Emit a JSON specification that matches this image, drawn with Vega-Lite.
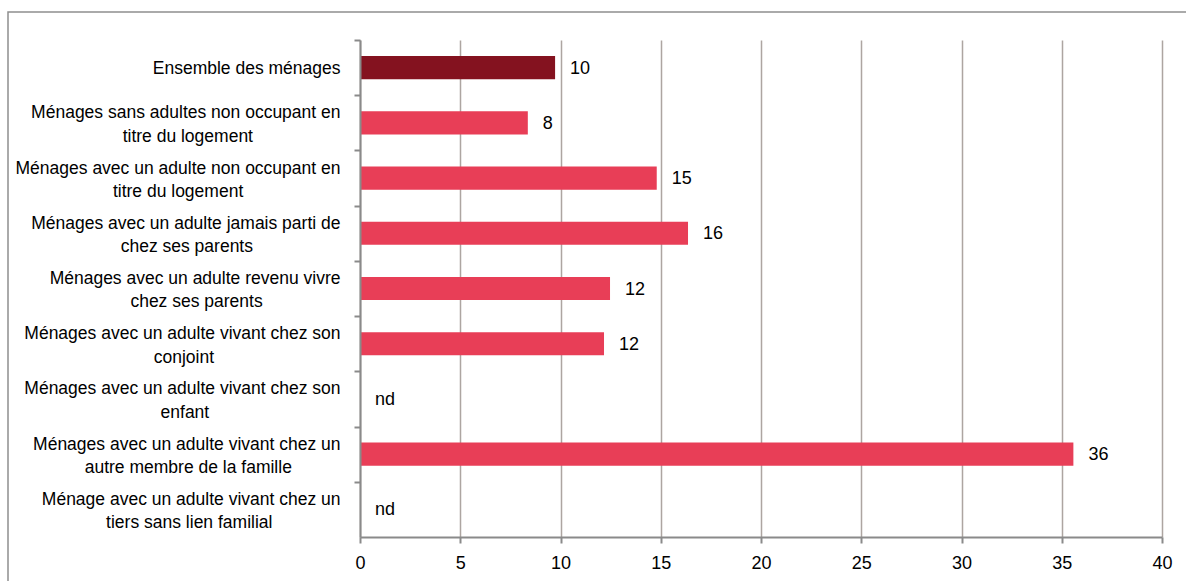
{
  "$schema": "https://vega.github.io/schema/vega-lite/v6.json",
  "width": 1200,
  "height": 600,
  "autosize": {"type": "none"},
  "padding": {"left": 8, "top": 12, "right": 0, "bottom": 0},
  "background": "white",
  "config": {"view": {"stroke": "#8f8f8f", "strokeWidth": 1.5}, "font": "Liberation Sans"},
  "data": {
    "values": [
      {"category": "Ensemble des ménages", "value": 9.73, "label": "10", "group": "total"},
      {"category": "Ménages sans adultes non occupant en\ntitre du logement\u00a0\u00a0\u00a0\u00a0\u00a0\u00a0\u00a0\u00a0\u00a0\u00a0\u00a0\u00a0\u00a0\u00a0\u00a0\u00a0\u00a0\u00a0\u200b", "value": 8.37, "label": "8", "group": "detail"},
      {"category": "Ménages avec un adulte non occupant en\ntitre du logement\u00a0\u00a0\u00a0\u00a0\u00a0\u00a0\u00a0\u00a0\u00a0\u00a0\u00a0\u00a0\u00a0\u00a0\u00a0\u00a0\u00a0\u00a0\u00a0\u00a0\u200b", "value": 14.8, "label": "15", "group": "detail"},
      {"category": "Ménages avec un adulte jamais parti de\nchez ses parents\u00a0\u00a0\u00a0\u00a0\u00a0\u00a0\u00a0\u00a0\u00a0\u00a0\u00a0\u00a0\u00a0\u00a0\u00a0\u00a0\u00a0\u00a0\u200b", "value": 16.36, "label": "16", "group": "detail"},
      {"category": "Ménages avec un adulte revenu vivre\nchez ses parents\u00a0\u00a0\u00a0\u00a0\u00a0\u00a0\u00a0\u00a0\u00a0\u00a0\u00a0\u00a0\u00a0\u00a0\u00a0\u00a0\u200b", "value": 12.47, "label": "12", "group": "detail"},
      {"category": "Ménages avec un adulte vivant chez son\nconjoint\u00a0\u00a0\u00a0\u00a0\u00a0\u00a0\u00a0\u00a0\u00a0\u00a0\u00a0\u00a0\u00a0\u00a0\u00a0\u00a0\u00a0\u00a0\u00a0\u00a0\u00a0\u00a0\u00a0\u00a0\u00a0\u00a0\u200b", "value": 12.17, "label": "12", "group": "detail"},
      {"category": "Ménages avec un adulte vivant chez son\nenfant\u00a0\u00a0\u00a0\u00a0\u00a0\u00a0\u00a0\u00a0\u00a0\u00a0\u00a0\u00a0\u00a0\u00a0\u00a0\u00a0\u00a0\u00a0\u00a0\u00a0\u00a0\u00a0\u00a0\u00a0\u00a0\u00a0\u00a0\u200b", "value": null, "label": "nd", "group": "detail"},
      {"category": "Ménages avec un adulte vivant chez un\nautre membre de la famille\u00a0\u00a0\u00a0\u00a0\u00a0\u00a0\u00a0\u00a0\u00a0\u00a0\u200b", "value": 35.58, "label": "36", "group": "detail"},
      {"category": "Ménage avec un adulte vivant chez un\ntiers sans lien familial\u00a0\u00a0\u00a0\u00a0\u00a0\u00a0\u00a0\u00a0\u00a0\u00a0\u00a0\u00a0\u00a0\u00a0\u200b", "value": null, "label": "nd", "group": "detail"}
    ]
  },
  "encoding": {
    "y": {
      "field": "category",
      "type": "nominal",
      "sort": null,
      "scale": {"range": [28, 525], "paddingInner": 0.58, "paddingOuter": 0.29},
      "axis": {
        "title": null,
        "orient": "left",
        "offset": -352,
        "zindex": 1,
        "labelExpr": "split(datum.label, '\\n')",
        "labelFontSize": 17.5,
        "labelLineHeight": 23.3,
        "labelLimit": 600,
        "labelPadding": 14,
        "labelColor": "#000000",
        "labelFont": "Liberation Sans",
        "domainColor": "#8a8a8a",
        "domainWidth": 2,
        "tickColor": "#8a8a8a",
        "tickWidth": 2,
        "tickSize": 6,
        "bandPosition": 0.5,
        "tickOffset": -27.6,
        "labelOffset": {"condition": {"test": "datum.value === 'Ensemble des ménages'", "value": 28.4}, "value": 17.6},
        "grid": false
      }
    }
  },
  "layer": [
    {
      "transform": [{"calculate": "datum.value === null ? 0 : datum.value", "as": "xl"}],
      "mark": {"type": "text", "align": "left", "baseline": "middle", "dx": 15, "dy": 1, "fontSize": 18, "color": "#000000", "font": "Liberation Sans"},
      "encoding": {
        "x": {
          "field": "xl",
          "type": "quantitative",
          "scale": {"domain": [0, 40], "range": [352, 1154], "nice": false, "zero": true},
          "axis": {
            "title": null,
            "orient": "top",
            "values": [0, 5, 10, 15, 20, 25, 30, 35, 40],
            "grid": true,
            "gridColor": "#ADA5A1",
            "gridWidth": 1.5,
            "domain": false,
            "ticks": false,
            "labels": false
          }
        },
        "text": {"field": "label"}
      }
    },
    {
      "mark": {"type": "bar"},
      "encoding": {
        "x": {
          "field": "value",
          "type": "quantitative",
          "axis": {
            "title": null,
            "orient": "bottom",
            "offset": -75,
            "zindex": 1,
            "values": [0, 5, 10, 15, 20, 25, 30, 35, 40],
            "grid": false,
            "domainColor": "#8a8a8a",
            "domainWidth": 2,
            "tickColor": "#8a8a8a",
            "tickWidth": 2,
            "tickSize": 6,
            "labelFontSize": 18,
            "labelPadding": 11,
            "labelFlush": false,
            "labelColor": "#000000",
            "labelFont": "Liberation Sans"
          }
        },
        "color": {
          "field": "group",
          "type": "nominal",
          "scale": {"domain": ["total", "detail"], "range": ["#84121F", "#E83E57"]},
          "legend": null
        }
      }
    }
  ],
  "resolve": {"axis": {"x": "independent"}}
}
